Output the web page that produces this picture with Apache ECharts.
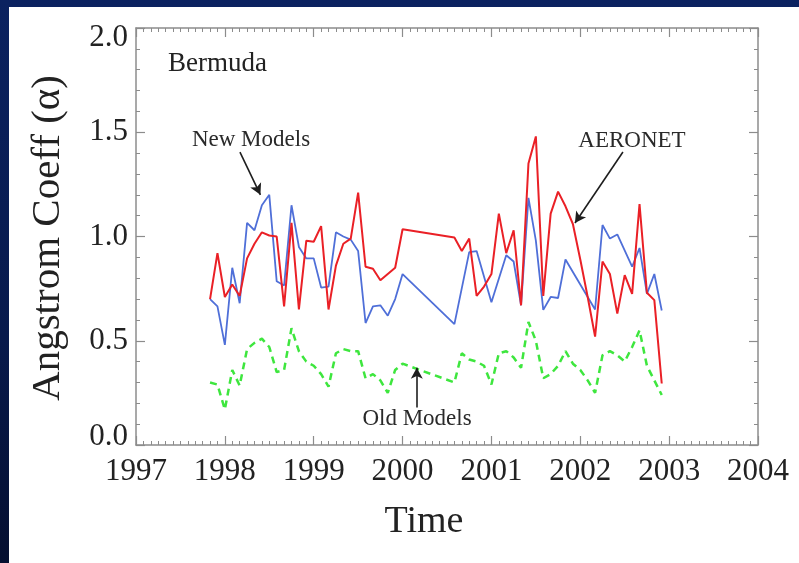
<!DOCTYPE html>
<html>
<head>
<meta charset="utf-8">
<script src="https://cdn.jsdelivr.net/npm/echarts@6/dist/echarts.min.js"></script>
<style>
  html, body { margin: 0; padding: 0; width: 799px; height: 563px; overflow: hidden;
    background: linear-gradient(180deg, #0b2260 0%, #081a4c 60%, #050f30 100%); }
  #panel { position: absolute; left: 9px; top: 7px; right: 0; bottom: 0; background: #ffffff; }
  #chart { position: absolute; left: 0; top: 0; width: 799px; height: 563px; }
</style>
</head>
<body>
<div id="panel"></div>
<div id="chart"></div>
<script>
// Monthly Angstrom exponent at Bermuda
const yearTicks = [1997, 1998, 1999, 2000, 2001, 2002, 2003, 2004];
const alphaTicks = [0.0, 0.5, 1.0, 1.5, 2.0];

// Months with AERONET retrievals (the old model run uses the same months)
const aeronetMonths = [
  '1997-11','1997-12','1998-01','1998-02','1998-03','1998-04','1998-05','1998-06','1998-07',
  '1998-08','1998-09','1998-10','1998-11','1998-12','1999-01','1999-02','1999-03','1999-04',
  '1999-05','1999-06','1999-07','1999-08','1999-09','1999-10','1999-11','1999-12','2000-01',
  '2000-08','2000-09','2000-10','2000-11','2000-12','2001-01','2001-02','2001-03','2001-04',
  '2001-05','2001-06','2001-07','2001-08','2001-09','2001-10','2001-11','2001-12','2002-01',
  '2002-02','2002-03','2002-04','2002-05','2002-06','2002-07','2002-08','2002-09','2002-10',
  '2002-11','2002-12'
];
const aeronetAlpha = [
  0.70, 0.92, 0.71, 0.77, 0.715, 0.895, 0.965, 1.02, 1.005,
  1.00, 0.665, 1.065, 0.65, 0.98, 0.975, 1.05, 0.65, 0.86,
  0.965, 0.99, 1.21, 0.855, 0.845, 0.79, 0.82, 0.85, 1.035,
  0.995, 0.93, 0.99, 0.715, 0.76, 0.82, 1.11, 0.92, 1.03,
  0.67, 1.35, 1.48, 0.715, 1.11, 1.215, 1.145, 1.06, 0.89,
  0.71, 0.52, 0.88, 0.82, 0.63, 0.815, 0.725, 1.155, 0.73,
  0.695, 0.295
];
const oldModelMonths = aeronetMonths;
const oldModelAlpha = [
  0.30, 0.29, 0.17, 0.36, 0.285, 0.46, 0.49, 0.51, 0.47,
  0.35, 0.36, 0.56, 0.45, 0.40, 0.38, 0.34, 0.28, 0.44,
  0.46, 0.45, 0.45, 0.32, 0.34, 0.31, 0.25, 0.36, 0.39,
  0.30, 0.44, 0.41, 0.40, 0.38, 0.29, 0.44, 0.45, 0.42,
  0.37, 0.59, 0.50, 0.32, 0.34, 0.38, 0.45, 0.39, 0.36,
  0.31, 0.25, 0.43, 0.45, 0.43, 0.40, 0.47, 0.55, 0.38,
  0.31, 0.24
];
const newModelMonths = [
  '1997-11','1997-12','1998-01','1998-02','1998-03','1998-04','1998-05','1998-06','1998-07',
  '1998-08','1998-09','1998-10','1998-11','1998-12','1999-01','1999-02','1999-03','1999-04',
  '1999-05','1999-06','1999-07','1999-08','1999-09','1999-10','1999-11','1999-12','2000-01',
  '2000-08','2000-10','2000-11','2001-01','2001-03','2001-04','2001-05','2001-06','2001-07',
  '2001-08','2001-09','2001-10','2001-11','2002-03','2002-04','2002-05','2002-06','2002-08',
  '2002-09','2002-10','2002-11','2002-12'
];
const newModelAlpha = [
  0.70, 0.665, 0.48, 0.85, 0.68, 1.065, 1.03, 1.15, 1.20,
  0.785, 0.765, 1.15, 0.95, 0.895, 0.895, 0.755, 0.76, 1.02,
  1.00, 0.985, 0.93, 0.585, 0.665, 0.67, 0.62, 0.70, 0.82,
  0.58, 0.925, 0.93, 0.685, 0.91, 0.88, 0.67, 1.185, 0.98,
  0.648, 0.71, 0.705, 0.89, 0.65, 1.055, 0.99, 1.01, 0.855,
  0.945, 0.725, 0.82, 0.645
];

// 'YYYY-MM' -> decimal year (start of month)
function toYear(ym) {
  const [y, m] = ym.split('-').map(Number);
  return y + (m - 1) / 12;
}
function pairs(months, values) {
  return months.map((ym, i) => [toYear(ym), values[i]]);
}

const SERIF = '"Liberation Serif", "Times New Roman", serif';
const INK = '#222222';
const AXIS = '#8c8c8c';

function boxAxis(extra) {
  return Object.assign({
    type: 'value',
    axisLine: { show: true, onZero: false, lineStyle: { color: AXIS, width: 1.5 } },
    axisTick: { show: true, inside: true, length: 9, lineStyle: { color: AXIS, width: 1.2 } },
    minorTick: { show: true, length: 4, lineStyle: { color: AXIS, width: 1 } },
    splitLine: { show: false },
    minorSplitLine: { show: false }
  }, extra);
}

const labelFont = { fontFamily: SERIF, fontSize: 31, color: INK };

const option = {
  animation: false,
  backgroundColor: 'transparent',
  grid: { left: 136, right: 41, top: 28, bottom: 118 },
  xAxis: [
    boxAxis({
      position: 'bottom', min: yearTicks[0], max: yearTicks[yearTicks.length - 1], interval: 1,
      minorTick: { show: true, splitNumber: 12, length: 4, lineStyle: { color: AXIS, width: 1 } },
      axisLabel: Object.assign({ margin: 11, formatter: v => String(Math.round(v)) }, labelFont)
    }),
    boxAxis({
      position: 'top', min: yearTicks[0], max: yearTicks[yearTicks.length - 1], interval: 1,
      minorTick: { show: true, splitNumber: 12, length: 4, lineStyle: { color: AXIS, width: 1 } },
      axisLabel: { show: false }
    })
  ],
  yAxis: [
    boxAxis({
      position: 'left', min: alphaTicks[0], max: alphaTicks[alphaTicks.length - 1], interval: 0.5,
      minorTick: { show: true, splitNumber: 5, length: 4, lineStyle: { color: AXIS, width: 1 } },
      axisLabel: Object.assign({
        margin: 8,
        formatter: v => v === alphaTicks[alphaTicks.length - 1] ? '{hi|' + v.toFixed(1) + '}'
                     : v === alphaTicks[0] ? '{lo|' + v.toFixed(1) + '}' : v.toFixed(1),
        rich: {
          hi: Object.assign({ padding: [20, 0, 0, 0] }, labelFont),
          lo: Object.assign({ padding: [0, 0, 16, 0] }, labelFont)
        }
      }, labelFont)
    }),
    boxAxis({
      position: 'right', min: alphaTicks[0], max: alphaTicks[alphaTicks.length - 1], interval: 0.5,
      minorTick: { show: true, splitNumber: 5, length: 4, lineStyle: { color: AXIS, width: 1 } },
      axisLabel: { show: false }
    })
  ],
  series: [
    {
      name: 'Old Models', type: 'line', xAxisIndex: 0, yAxisIndex: 0,
      data: pairs(oldModelMonths, oldModelAlpha),
      showSymbol: false, symbol: 'none',
      lineStyle: { color: '#3ee63e', width: 2.5, type: [7, 5] },
      markLine: {
        silent: true, symbol: ['none', 'arrow'], symbolSize: [9, 11], precision: 3,
        label: { show: false },
        lineStyle: { color: '#1e1e1e', width: 1.6, type: 'solid' },
        emphasis: { disabled: true },
        data: [
          [{ coord: [1998.17, 1.405] }, { coord: [1998.40, 1.20] }],
          [{ coord: [2002.48, 1.405] }, { coord: [2001.94, 1.065] }],
          [{ coord: [2000.16, 0.18] }, { coord: [2000.16, 0.37] }]
        ]
      }
    },
    {
      name: 'New Models', type: 'line', xAxisIndex: 0, yAxisIndex: 0,
      data: pairs(newModelMonths, newModelAlpha),
      showSymbol: false, symbol: 'none',
      lineStyle: { color: '#4f6fd8', width: 1.8 }
    },
    {
      name: 'AERONET', type: 'line', xAxisIndex: 0, yAxisIndex: 0,
      data: pairs(aeronetMonths, aeronetAlpha),
      showSymbol: false, symbol: 'none',
      lineStyle: { color: '#ea2026', width: 2 }
    }
  ],
  graphic: [
    { type: 'text', x: 168, y: 64, style: { text: 'Bermuda', font: '27px ' + SERIF, fill: INK,
      align: 'left', verticalAlign: 'middle', textAlign: 'left', textVerticalAlign: 'middle' } },
    { type: 'text', x: 251, y: 140, style: { text: 'New Models', font: '23px ' + SERIF, fill: '#2a2a2a',
      align: 'center', verticalAlign: 'middle', textAlign: 'center', textVerticalAlign: 'middle' } },
    { type: 'text', x: 632, y: 141, style: { text: 'AERONET', font: '23px ' + SERIF, fill: '#2a2a2a',
      align: 'center', verticalAlign: 'middle', textAlign: 'center', textVerticalAlign: 'middle' } },
    { type: 'text', x: 417, y: 419, style: { text: 'Old Models', font: '23px ' + SERIF, fill: '#2a2a2a',
      align: 'center', verticalAlign: 'middle', textAlign: 'center', textVerticalAlign: 'middle' } },
    { type: 'text', x: 424, y: 522, style: { text: 'Time', font: '38px ' + SERIF, fill: INK,
      align: 'center', verticalAlign: 'middle', textAlign: 'center', textVerticalAlign: 'middle' } },
    { type: 'text', x: 48, y: 238, rotation: Math.PI / 2,
      style: { text: 'Angstrom Coeff (α)', font: '41px ' + SERIF, fill: INK,
      align: 'center', verticalAlign: 'middle', textAlign: 'center', textVerticalAlign: 'middle' } }
  ]
};

const chart = echarts.init(document.getElementById('chart'), null, { renderer: 'canvas' });
chart.setOption(option);
</script>
</body>
</html>
